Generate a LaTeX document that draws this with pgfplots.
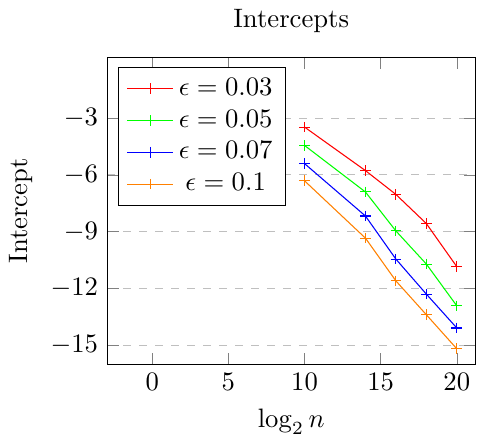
\documentclass[border=0pt]{standalone}
\usepackage{pgfplots}
\pgfplotsset{compat=1.18}
\begin{document}
\begin{tikzpicture}
    \begin{axis}[
        scale only axis,
        width=138pt,
        height=115pt,
        title={Intercepts},
        xlabel={$\log_2 n$},
        ylabel={Intercept},
        xmin=-2.95, xmax=21.2,
        ymin=-16, ymax=0.2,
        xtick={0,5,10,15,20},
        ytick={-15,-12,-9,-6,-3},
        ymajorgrids,
        grid style={dashed, gray!50},
        legend pos=north west,
    ]

    \addplot[red, mark=+] coordinates {
        (10, -3.47) (14, -5.77) (16, -7.03) (18, -8.57) (20, -10.85)
    };
    \addplot[green, mark=+] coordinates {
        (10, -4.44) (14, -6.90) (16, -8.96) (18, -10.71) (20, -12.92)
    };
    \addplot[blue, mark=+] coordinates {
        (10, -5.40) (14, -8.17) (16, -10.45) (18, -12.30) (20, -14.09)
    };
    \addplot[orange, mark=+] coordinates {
        (10, -6.31) (14, -9.34) (16, -11.60) (18, -13.39) (20, -15.19)
    };

    \legend{$\epsilon=0.03$, $\epsilon=0.05$, $\epsilon=0.07$, $\epsilon=0.1$}
    \end{axis}
\end{tikzpicture}
\end{document}
